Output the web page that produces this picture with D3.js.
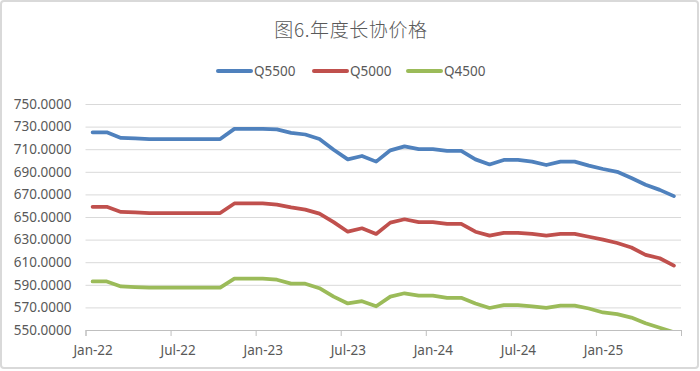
<!DOCTYPE html>
<html>
<head>
<meta charset="utf-8">
<script src="https://cdn.jsdelivr.net/npm/d3@7"></script>
<style>
  body { margin: 0; background: #fff; }
  svg text { font-family: "Noto Sans", "Liberation Sans", sans-serif; fill: #595959; }
</style>
</head>
<body>
<script>
// monthly data, Jan-22 .. Jun-25
var months = d3.timeMonths(new Date(2022, 0, 1), new Date(2025, 6, 1));

var q5500 = [725, 725, 720, 719.5, 719, 719, 719, 719, 719, 719,
    728, 728, 728, 727.5, 724.5, 723, 719, 709.5, 701, 704,
    699, 709, 712.5, 710, 710, 708.5, 708.5, 701, 696.5, 700.5,
    700.5, 699, 696, 699, 699, 695.5, 692.5, 690, 684.5, 678.5,
    674, 668.5];
var q5000 = [659, 659, 654.5, 654, 653.5, 653.5, 653.5, 653.5, 653.5, 653.5,
    662, 662, 662, 661, 658.5, 656.5, 653, 645.5, 637, 640,
    635, 645, 648, 645.5, 645.5, 644, 644, 637, 633.5, 636,
    636, 635, 633.5, 635, 635, 632.5, 630, 627, 623, 616.5,
    613.5, 607];
var q4500 = [593, 593, 588.5, 588, 587.5, 587.5, 587.5, 587.5, 587.5, 587.5,
    595.5, 595.5, 595.5, 594.5, 591, 591, 587, 579.5, 573.5, 575.5,
    571, 579.5, 582.5, 580.5, 580.5, 578.5, 578.5, 573.5, 569.5, 572,
    572, 571, 569.5, 571.5, 571.5, 569, 565.5, 564, 561, 556,
    552, 548];

var seriesNames = ["Q5500", "Q5000", "Q4500"];
var colors = ["#4F81BD", "#C0504D", "#9BBB59"];
var xLabels = ["Jan-22", "Jul-22", "Jan-23", "Jul-23", "Jan-24", "Jul-24", "Jan-25"];
var yTicks = [550, 570, 590, 610, 630, 650, 670, 690, 710, 730, 750];

var w = 700, h = 371;
var plotL = 85.5, plotR = 681, plotT = 104, plotB = 330;

var svg = d3.select("body").append("svg")
    .attr("width", w)
    .attr("height", h);

// outer frame
svg.append("rect")
    .attr("x", 1).attr("y", 1)
    .attr("width", w - 3).attr("height", h - 4)
    .attr("rx", 3)
    .attr("fill", "#fff")
    .attr("stroke", "#d9d9d9")
    .attr("stroke-width", 2);

// x: one band per month, ticks on band edges
var x = d3.scaleLinear()
    .domain([0, months.length])
    .range([plotL, plotR]);

var y = d3.scaleLinear()
    .domain([550, 750])
    .range([plotB, plotT]);

// gridlines + y labels
var yAxis = svg.append("g")
    .attr("transform", "translate(" + plotL + ",0)")
    .call(d3.axisLeft(y)
        .tickValues(yTicks)
        .tickSize(-(plotR - plotL))
        .tickPadding(14)
        .tickFormat(d3.format(".4f")));
yAxis.select(".domain").remove();
yAxis.selectAll("line").attr("stroke", "#d9d9d9");
yAxis.selectAll("text")
    .style("font-size", "13.5px")
    .attr("fill", "#595959");

// x axis line and tick marks
var xAxis = svg.append("g")
    .attr("transform", "translate(0," + plotB + ")")
    .call(d3.axisBottom(x)
        .tickValues(d3.range(0, months.length + 1, 6))
        .tickSize(6)
        .tickFormat(""));
xAxis.select(".domain").attr("stroke", "#bfbfbf");
xAxis.selectAll("line").attr("stroke", "#bfbfbf");

// x labels, centred on the month
var xLab = svg.append("g")
    .attr("transform", "translate(0," + plotB + ")")
    .call(d3.axisBottom(x)
        .tickValues(xLabels.map(function (d, i) { return i * 6 + 0.5; }))
        .tickSize(0)
        .tickPadding(15)
        .tickFormat(function (d, i) { return xLabels[i]; }));
xLab.select(".domain").remove();
xLab.selectAll("text")
    .style("font-size", "13.5px")
    .attr("fill", "#595959");

// clip lines to plot area (green dips below 550 at the end)
svg.append("clipPath").attr("id", "plot")
    .append("rect")
    .attr("x", plotL).attr("y", plotT - 10)
    .attr("width", plotR - plotL).attr("height", plotB - plotT + 10);

var line = d3.line()
    .x(function (d, i) { return x(i + 0.5); })
    .y(function (d) { return y(d); });

var allSeries = [q5500, q5000, q4500];

svg.append("g")
    .attr("clip-path", "url(#plot)")
    .selectAll("path")
    .data(allSeries)
    .enter()
    .append("path")
    .attr("d", line)
    .attr("fill", "none")
    .attr("stroke", function (d, i) { return colors[i]; })
    .attr("stroke-width", 3.75)
    .attr("stroke-linejoin", "round")
    .attr("stroke-linecap", "round");

// title
svg.append("text")
    .attr("x", 351)
    .attr("y", 37)
    .attr("text-anchor", "middle")
    .style("font-family", "'Noto Sans CJK SC', sans-serif")
    .style("font-weight", 300)
    .style("font-size", "19px")
    .style("letter-spacing", "0.6px")
    .attr("fill", "#6a6a6a")
    .text("图6.年度长协价格");

// legend
var legendX = [218, 314, 408];
var legend = svg.selectAll(".legend")
    .data(seriesNames)
    .enter()
    .append("g")
    .attr("class", "legend")
    .attr("transform", function (d, i) { return "translate(" + legendX[i] + ",71)"; });

legend.append("line")
    .attr("x1", 0).attr("x2", 33)
    .attr("stroke", function (d, i) { return colors[i]; })
    .attr("stroke-width", 4)
    .attr("stroke-linecap", "round");

legend.append("text")
    .attr("x", 36)
    .attr("y", 5)
    .style("font-size", "13.5px")
    .attr("fill", "#595959")
    .text(function (d) { return d; });
</script>
</body>
</html>
